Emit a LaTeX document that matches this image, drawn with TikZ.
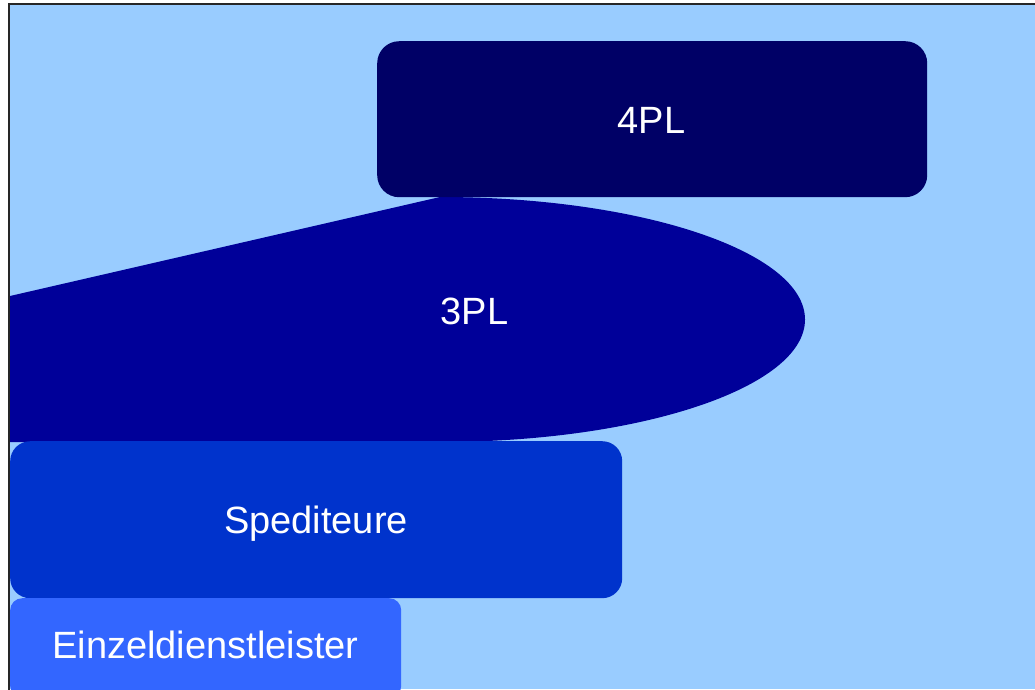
\documentclass[tikz,border=0pt]{standalone}
\usepackage{fontspec}
\setmainfont{Liberation Sans}
\begin{document}
\begin{tikzpicture}[x=1pt,y=-1pt,
  lbl/.style={text=white,font=\fontsize{38}{40}\selectfont,anchor=base,inner sep=0pt},
  pbox/.style={rounded corners=#1,inner sep=0pt,anchor=north west}]
\definecolor{bg}{HTML}{99CCFF}
\definecolor{cfour}{HTML}{000066}
\definecolor{cthree}{HTML}{000099}
\definecolor{cspd}{HTML}{0033CC}
\definecolor{cein}{HTML}{3366FF}
\useasboundingbox (0,0) rectangle (1035,689);
\clip (0,0) rectangle (1035,689);
\fill[bg] (9,4) rectangle (1035,689);
\draw[line width=2pt,black!85] (9,700) -- (9,4) -- (1040,4);
% 3PL shape
\fill[cthree] (10,296) -- (440,197) arc[start angle=-90,end angle=90,x radius=365,y radius=122.5] -- (10,442) -- cycle;
\node[lbl] (tpl) at (474.5,324) {3PL};
% 4PL
\node[pbox=22pt,fill=cfour,minimum width=550pt,minimum height=156pt] (fpl) at (377,41) {};
\node[lbl] (fplt) at (651.5,133) {4PL};
% Spediteure
\node[pbox=20pt,fill=cspd,minimum width=612pt,minimum height=157pt] (spd) at (10,441) {};
\node[lbl] (spdt) at (316,533) {Spediteure};
% Einzeldienstleister
\node[pbox=12pt,fill=cein,minimum width=391pt,minimum height=100pt] (ein) at (10,598) {};
\node[lbl] (eint) at (205.5,658) {Einzeldienstleister};
\end{tikzpicture}
\end{document}
